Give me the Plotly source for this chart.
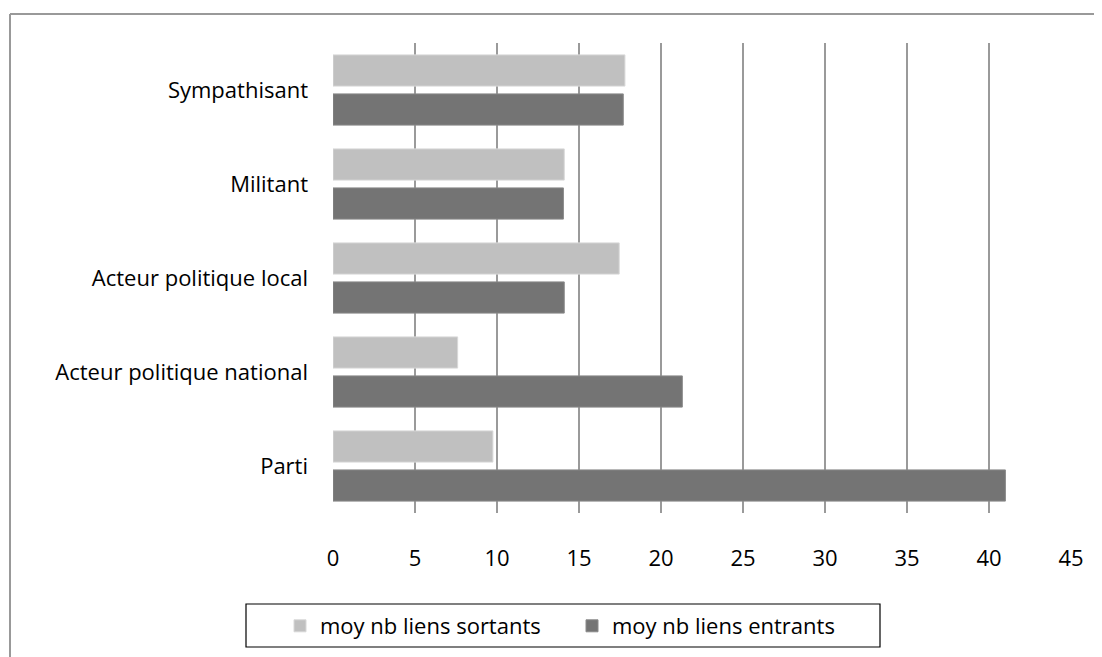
import plotly.graph_objects as go

categories = ["Sympathisant", "Militant", "Acteur politique local", "Acteur politique national", "Parti"]
sortants = [17.8, 14.1, 17.45, 7.6, 9.75]
entrants = [17.7, 14.05, 14.1, 21.3, 41.0]
series_names = ["moy nb liens sortants", "moy nb liens entrants"]
x_ticks = [0, 5, 10, 15, 20, 25, 30, 35, 40, 45]

OFF = 8  # page body margin
W, H = 1102 - OFF, 657 - OFF
# target screenshot coords of plot area: x 333..1071, y 43..513
L = 333 - OFF
T = 43 - OFF
R = W - (1071 - OFF)
B = H - (513 - OFF)
pw, ph = W - L - R, H - T - B

def px(x):
    return (x - OFF - L) / pw

def py(y):
    return (H - B - (y - OFF)) / ph

FONT = "'Open Sans', sans-serif"
FS = 22

fig = go.Figure()
fig.add_trace(go.Bar(y=categories, x=sortants, name=series_names[0], orientation="h",
                     marker=dict(color="#c0c0c0", line=dict(color="#d8d8d8", width=1))))
fig.add_trace(go.Bar(y=categories, x=entrants, name=series_names[1], orientation="h",
                     marker=dict(color="#747474", line=dict(color="#8a8a8a", width=1))))

fig.update_layout(
    width=W, height=H,
    margin=dict(l=L, r=R, t=T, b=B, autoexpand=False),
    paper_bgcolor="white", plot_bgcolor="white",
    barmode="group", bargap=0.17, bargroupgap=0.2,
    font=dict(family=FONT, size=FS, color="#000000"),
    xaxis=dict(range=[0, 45], tickvals=x_ticks, showgrid=True, gridcolor="#9a9a9a", gridwidth=1.5,
               zeroline=False, showline=False, ticks="", ticklabelstandoff=30,
               tickfont=dict(size=FS, family=FONT)),
    yaxis=dict(autorange="reversed", showgrid=False, zeroline=False, showline=False, ticks="",
               ticklabelstandoff=24, tickfont=dict(size=FS, family=FONT)),
    legend=dict(orientation="h", x=px(572), xanchor="center", y=py(626), yanchor="middle",
                bgcolor="rgba(0,0,0,0)", borderwidth=0, entrywidth=247,
                font=dict(size=FS, family=FONT)),
    showlegend=True,
)

# legend frame
fig.add_shape(type="rect", xref="paper", yref="paper",
              x0=px(246), x1=px(880), y0=py(647), y1=py(604),
              line=dict(color="#000000", width=1.2), fillcolor="rgba(0,0,0,0)")
# outer chart border (top and left edges visible only)
fig.add_shape(type="line", xref="paper", yref="paper",
              x0=px(10), x1=px(1102), y0=py(14), y1=py(14),
              line=dict(color="#999999", width=2))
fig.add_shape(type="line", xref="paper", yref="paper",
              x0=px(10), x1=px(10), y0=py(14), y1=py(657),
              line=dict(color="#999999", width=2))

fig.write_html("out.html", config={"displayModeBar": False})
